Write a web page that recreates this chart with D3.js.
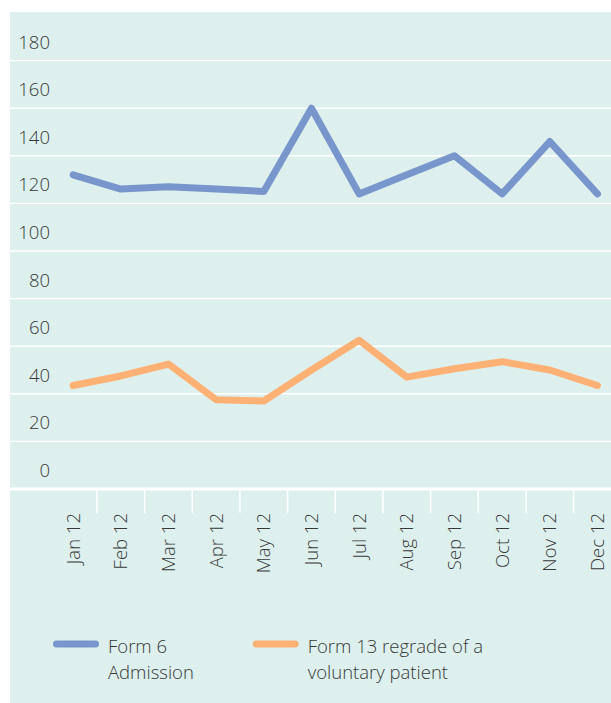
<!DOCTYPE html>
<html>
<head>
    <title>Form 6 and Form 13 by month</title>
    <script src="https://d3js.org/d3.v7.min.js"></script>
    <style>
        body {
            margin: 0;
            background: #fff;
            font-family: "Open Sans", "Noto Sans", sans-serif;
        }
        .label {
            fill: #383838;
            font-size: 18.5px;
            font-weight: 300;
        }
    </style>
</head>
<body>
    <svg id="chart" width="611" height="703"></svg>

    <script>
        // Data
        const months = ['Jan 12', 'Feb 12', 'Mar 12', 'Apr 12', 'May 12', 'Jun 12',
                        'Jul 12', 'Aug 12', 'Sep 12', 'Oct 12', 'Nov 12', 'Dec 12'];
        const form6 = [132, 126, 127, 126, 125, 160, 124, 132, 140, 124, 146, 124];
        const form13 = [43.5, 47.5, 52.5, 37.5, 37, 50, 62.5, 47, 50.5, 53.5, 50, 43.5];
        const yTicks = [0, 20, 40, 60, 80, 100, 120, 140, 160, 180];
        const seriesNames = [['Form 6', 'Admission'], ['Form 13 regrade of a', 'voluntary patient']];
        const seriesColors = ['#7896cc', '#fdb174'];

        const svg = d3.select('#chart');

        // Panel background
        svg.append('rect')
            .attr('x', 10)
            .attr('y', 12)
            .attr('width', 601)
            .attr('height', 691)
            .attr('fill', '#ddf0ee');

        const x = d3.scaleBand()
            .domain(months)
            .range([49.3, 621.3])
            .padding(0);

        const y = d3.scaleLinear()
            .domain([0, 200])
            .range([489, 13]);

        // Horizontal gridlines
        svg.append('g')
            .selectAll('line')
            .data(yTicks.filter(d => d > 0))
            .join('line')
            .attr('x1', 10)
            .attr('x2', 611)
            .attr('y1', d => y(d))
            .attr('y2', d => y(d))
            .attr('stroke', '#fff')
            .attr('stroke-width', 1.4);

        // Base line
        svg.append('line')
            .attr('x1', 10)
            .attr('x2', 611)
            .attr('y1', y(0))
            .attr('y2', y(0))
            .attr('stroke', '#fff')
            .attr('stroke-width', 3);

        // Category separators under the axis
        svg.append('g')
            .selectAll('line')
            .data(months.slice(1))
            .join('line')
            .attr('x1', d => x(d))
            .attr('x2', d => x(d))
            .attr('y1', y(0))
            .attr('y2', y(0) + 24)
            .attr('stroke', '#fff')
            .attr('stroke-width', 1.5);

        // Y tick labels (sit above their gridline)
        svg.append('g')
            .selectAll('text')
            .data(yTicks)
            .join('text')
            .attr('class', 'label')
            .attr('x', 50)
            .attr('y', d => y(d) - 12)
            .attr('text-anchor', 'end')
            .text(d => d);

        // X labels, rotated
        svg.append('g')
            .selectAll('text')
            .data(months)
            .join('text')
            .attr('class', 'label')
            .attr('text-anchor', 'end')
            .attr('transform', d => `translate(${x(d) + x.bandwidth() / 2},${y(0) + 24}) rotate(-90)`)
            .attr('dy', '0.36em')
            .text(d => d);

        // Lines
        const line = d3.line()
            .x((d, i) => x(months[i]) + x.bandwidth() / 2)
            .y(d => y(d));

        [form6, form13].forEach((values, i) => {
            svg.append('path')
                .datum(values)
                .attr('d', line)
                .attr('fill', 'none')
                .attr('stroke', seriesColors[i])
                .attr('stroke-width', 7)
                .attr('stroke-linejoin', 'round')
                .attr('stroke-linecap', 'round');
        });

        // Legend
        const legendX = [56.5, 256.2];
        const legend = svg.append('g');
        seriesNames.forEach((lines, i) => {
            legend.append('line')
                .attr('x1', legendX[i])
                .attr('x2', legendX[i] + 39)
                .attr('y1', 644)
                .attr('y2', 644)
                .attr('stroke', seriesColors[i])
                .attr('stroke-width', 7)
                .attr('stroke-linecap', 'round');

            const t = legend.append('text')
                .attr('class', 'label')
                .attr('x', legendX[i] + 51.5)
                .attr('y', 653);
            lines.forEach((s, j) => {
                t.append('tspan')
                    .attr('x', legendX[i] + 51.5)
                    .attr('dy', j === 0 ? 0 : 26)
                    .text(s);
            });
        });
    </script>
</body>
</html>
